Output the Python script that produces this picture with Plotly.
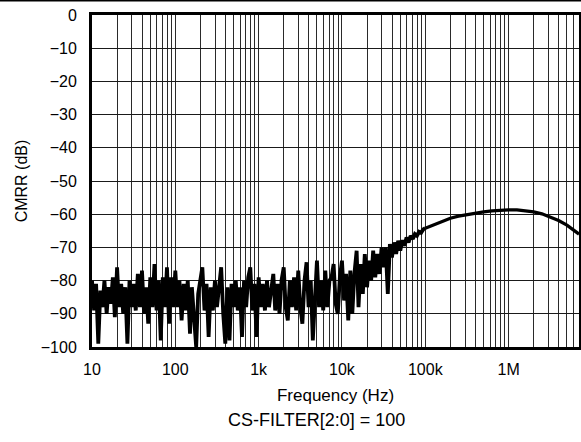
import plotly.graph_objects as go  # plotly for the chart

# Frequency sweep points (Hz) of the noisy low-frequency part, 40 points per decade
freq_noisy_hz = [
    10, 10.6, 11.2, 11.9, 12.6, 13.3, 14.1, 15.0, 15.8, 16.8,
    17.8, 18.8, 20.0, 21.1, 22.4, 23.7, 25.1, 26.6, 28.2, 29.9,
    31.6, 33.5, 35.5, 37.6, 39.8, 42.2, 44.7, 47.3, 50.1, 53.1,
    56.2, 59.6, 63.1, 66.8, 70.8, 75.0, 79.4, 84.1, 89.1, 94.4,
    100, 106, 112, 119, 126, 133, 141, 150, 158, 168,
    178, 188, 200, 211, 224, 237, 251, 266, 282, 299,
    316, 335, 355, 376, 398, 422, 447, 473, 501, 531,
    562, 596, 631, 668, 708, 750, 794, 841, 891, 944,
    1000, 1060, 1120, 1190, 1260, 1330, 1410, 1500, 1580, 1680,
    1780, 1880, 2000, 2110, 2240, 2370, 2510, 2660, 2820, 2990,
    3160, 3350, 3550, 3760, 3980, 4220, 4470, 4730, 5010, 5310,
    5620, 5960, 6310, 6680, 7080, 7500, 7940, 8410, 8910, 9440,
    10000, 10600, 11200, 11900, 12600, 13300, 14100, 15000, 15800, 16800,
    17800, 18800, 20000, 21100, 22400, 23700, 25100, 26600, 28200, 29900,
    31600, 33500, 35500, 37600, 39800, 42200, 44700, 47300, 50100, 53100,
    56200, 59600, 63100, 66800, 70800, 75000, 79400, 84100, 89100, 94400,
    100000,
]

# CMRR (dB) for the noisy part
cmrr_noisy_db = [
    -80, -89, -81, -99, -83, -88, -80, -90, -82, -87,
    -79, -91, -76, -88, -81, -90, -82, -99, -80, -88,
    -81, -89, -78, -88, -77, -90, -82, -93, -79, -88,
    -75, -89, -80, -98, -79, -88, -76, -93, -79, -88,
    -77, -88, -80, -92, -81, -89, -80, -96, -82, -90,
    -100, -84, -80, -76, -89, -81, -97, -82, -89, -80,
    -88, -81, -76, -90, -99, -82, -98, -81, -88, -80,
    -89, -82, -97, -80, -88, -79, -76, -89, -81, -97,
    -79, -88, -81, -89, -80, -88, -82, -78, -89, -81,
    -90, -80, -76, -88, -92, -80, -88, -79, -89, -77,
    -88, -93, -80, -74.5, -88, -80, -98, -83, -74, -88,
    -80, -89, -77, -88, -80, -79, -75, -87, -90, -79,
    -74, -86, -78, -92, -77, -90, -78, -71, -88, -75,
    -84, -72, -82, -74, -80, -71, -79, -72, -78, -70,
    -76, -70, -84, -69, -73, -68.5, -72, -68, -71, -67.8,
    -69.5, -67, -68.5, -66.5, -67.5, -66, -66.5, -65.3, -65.6, -64.6,
    -64.2,
]

# Smooth high-frequency part (Hz / dB)
freq_smooth_hz = [
    100000, 112000, 126000, 141000, 158000, 178000, 200000, 251000, 316000, 398000,
    501000, 631000, 794000, 1000000, 1260000, 1580000, 2000000, 2510000, 3160000, 3980000,
    5010000, 6310000, 7000000,
]
cmrr_smooth_db = [
    -64.2, -63.7, -63.2, -62.6, -62.2, -61.7, -61.2, -60.6, -60.1, -59.7,
    -59.3, -59.0, -58.8, -58.7, -58.7, -58.9, -59.3, -59.9, -60.8, -61.9,
    -63.3, -65.1, -66.0,
]

# Axis ticks
x_tick_vals = [m * 10 ** d for d in range(1, 7) for m in range(1, 10)]
x_tick_text = ["10", "100", "1k", "10k", "100k", "1M"]
y_tick_vals = [0, -10, -20, -30, -40, -50, -60, -70, -80, -90, -100]

font_family = "Liberation Sans, Arial, sans-serif"

fig = go.Figure()

# Noisy part drawn a little heavier so the band fills in like the original
fig.add_trace(
    go.Scatter(
        x=freq_noisy_hz,
        y=cmrr_noisy_db,
        mode="lines",
        line=dict(color="black", width=3.8),
        showlegend=False,
    )
)

fig.add_trace(
    go.Scatter(
        x=freq_smooth_hz,
        y=cmrr_smooth_db,
        mode="lines",
        line=dict(color="black", width=3.2),
        showlegend=False,
    )
)

fig.update_layout(
    width=581,
    height=442,
    margin=dict(l=92, r=2, t=15, b=95),
    paper_bgcolor="white",
    plot_bgcolor="white",
    font=dict(family=font_family, color="black", size=16),
    xaxis=dict(
        type="log",
        range=[1, 6.845],
        tickmode="array",
        tickvals=x_tick_vals,
        ticktext=[x_tick_text[i // 9] if i % 9 == 0 else "" for i in range(len(x_tick_vals))],
        showgrid=True,
        gridcolor="#2a2a2a",
        gridwidth=1,
        showline=True,
        linecolor="black",
        linewidth=3,
        mirror=True,
        ticks="",
        ticklabelstandoff=6,
        tickfont=dict(size=16),
        title=dict(text="Frequency (Hz)", font=dict(size=17), standoff=12),
        zeroline=False,
        automargin=False,
    ),
    yaxis=dict(
        range=[-100, 0],
        tickmode="array",
        tickvals=y_tick_vals,
        showgrid=True,
        gridcolor="#1a1a1a",
        gridwidth=1,
        showline=True,
        linecolor="black",
        linewidth=3,
        mirror=True,
        ticks="",
        ticklabelstandoff=9,
        tickfont=dict(size=16),
        title=dict(text="CMRR (dB)", font=dict(size=16), standoff=10),
        zeroline=False,
        automargin=False,
    ),
)

# Caption under the axis title
fig.add_annotation(
    text="CS-FILTER[2:0] = 100",
    xref="paper", yref="paper",
    x=0.46, y=-0.22,
    xanchor="center", yanchor="middle",
    showarrow=False,
    font=dict(size=18),
)

# Thin rule at the very top of the picture
fig.add_shape(
    type="line",
    xref="paper", yref="paper",
    x0=-0.19, x1=1.01, y0=1.043, y1=1.043,
    line=dict(color="black", width=1.5),
)

# page has a default 8px body margin, drop it so the figure sits at 0,0
fig.write_html(
    "out.html",
    config={"displayModeBar": False},
    post_script="document.body.style.margin='0';document.body.style.overflow='hidden';",
)
